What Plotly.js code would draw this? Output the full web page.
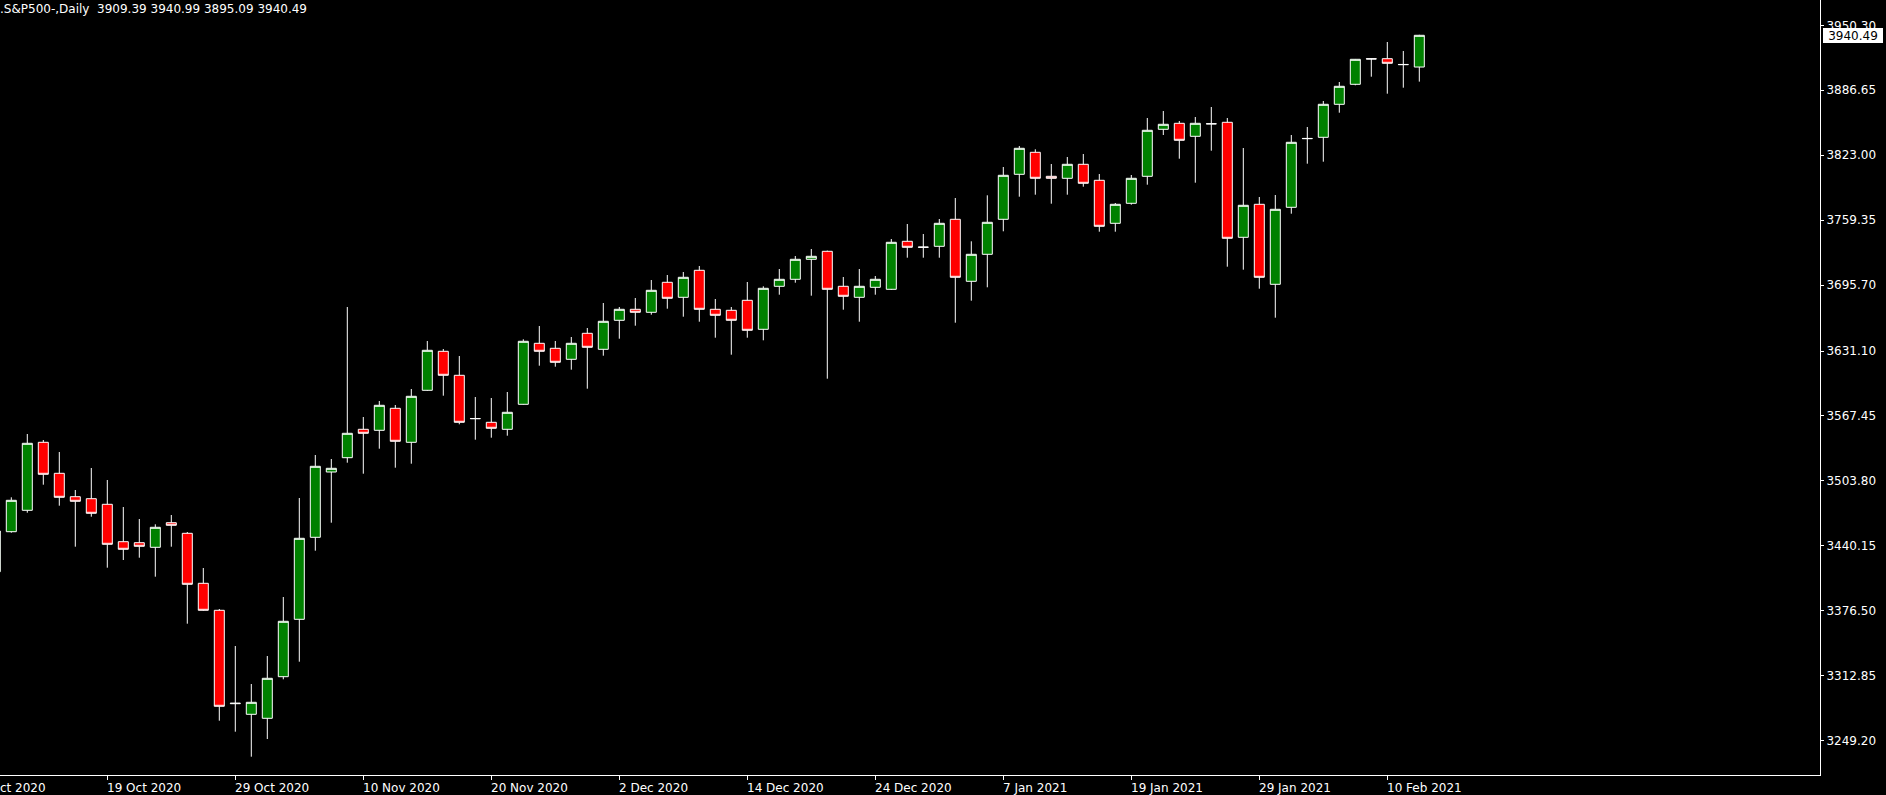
<!DOCTYPE html>
<html>
<head>
<meta charset="utf-8">
<script src="https://cdn.plot.ly/plotly-3.0.1.min.js"></script>
<style>
html,body{margin:0;padding:0;background:#000;overflow:hidden;}
#chart{width:1886px;height:795px;}
</style>
</head>
<body>
<div id="chart"></div>
<script>
// ---- data ----
const dates = [
 '2020-10-08','2020-10-09','2020-10-12','2020-10-13','2020-10-14','2020-10-15','2020-10-16',
 '2020-10-19','2020-10-20','2020-10-21','2020-10-22','2020-10-23','2020-10-26','2020-10-27',
 '2020-10-28','2020-10-29','2020-10-30','2020-11-02','2020-11-03','2020-11-04','2020-11-05',
 '2020-11-06','2020-11-09','2020-11-10','2020-11-11','2020-11-12','2020-11-13','2020-11-16',
 '2020-11-17','2020-11-18','2020-11-19','2020-11-20','2020-11-23','2020-11-24','2020-11-25',
 '2020-11-26','2020-11-27','2020-11-30','2020-12-01','2020-12-02','2020-12-03','2020-12-04',
 '2020-12-07','2020-12-08','2020-12-09','2020-12-10','2020-12-11','2020-12-14','2020-12-15',
 '2020-12-16','2020-12-17','2020-12-18','2020-12-21','2020-12-22','2020-12-23','2020-12-24',
 '2020-12-28','2020-12-29','2020-12-30','2020-12-31','2021-01-04','2021-01-05','2021-01-06',
 '2021-01-07','2021-01-08','2021-01-11','2021-01-12','2021-01-13','2021-01-14','2021-01-15',
 '2021-01-18','2021-01-19','2021-01-20','2021-01-21','2021-01-22','2021-01-25','2021-01-26',
 '2021-01-27','2021-01-28','2021-01-29','2021-02-01','2021-02-02','2021-02-03','2021-02-04',
 '2021-02-05','2021-02-08','2021-02-09','2021-02-10','2021-02-11','2021-02-12'
];
const openP = [
 3414.82,3454.02,3475.00,3541.64,3511.26,3488.32,3486.36,
 3480.88,3444.22,3443.24,3438.74,3462.84,3452.46,3403.46,
 3377.00,3285.46,3275.08,3271.16,3311.92,3368.18,3448.54,
 3512.53,3526.54,3554.38,3553.40,3574.96,3541.64,3592.60,
 3630.82,3607.30,3564.76,3561.24,3554.38,3578.88,3638.66,
 3633.76,3622.98,3648.46,3632.78,3661.20,3671.98,3669.04,
 3698.44,3683.74,3710.20,3671.98,3671.00,3680.80,3652.38,
 3694.52,3701.38,3720.98,3728.82,3694.52,3683.74,3693.54,
 3691.58,3738.62,3732.74,3733.72,3760.18,3699.42,3725.88,
 3760.18,3804.28,3825.84,3802.32,3800.36,3814.08,3798.40,
 3756.26,3775.86,3802.32,3848.38,3854.26,3841.52,3853.86,
 3855.24,3742.54,3774.88,3696.48,3771.94,3839.16,3840.54,
 3872.88,3892.48,3917.56,3917.56,3911.68,3909.39
];
const highP = [
 3458.60,3487.74,3549.77,3543.89,3532.13,3494.89,3516.45,
 3504.69,3478.23,3466.47,3461.28,3470.39,3453.73,3418.45,
 3378.27,3342.01,3304.77,3332.21,3390.03,3487.05,3529.19,
 3525.27,3674.23,3566.43,3582.11,3578.19,3593.87,3640.91,
 3633.07,3626.21,3586.03,3585.05,3590.93,3642.58,3655.61,
 3640.91,3644.83,3653.65,3678.15,3674.23,3683.05,3700.69,
 3705.59,3708.53,3714.41,3682.07,3674.23,3698.73,3694.52,
 3711.47,3724.21,3731.07,3729.50,3703.63,3711.47,3704.61,
 3740.87,3755.57,3745.77,3760.47,3781.05,3738.62,3783.70,
 3811.43,3832.01,3828.78,3814.37,3821.23,3824.17,3804.57,
 3776.15,3803.59,3859.45,3866.31,3856.51,3860.43,3870.23,
 3859.45,3830.05,3782.03,3783.99,3842.79,3850.63,3876.11,
 3894.73,3917.30,3918.00,3933.93,3925.11,3940.99
];
const lowP = [
 3410.60,3453.04,3472.64,3500.08,3479.50,3439.32,3468.72,
 3418.74,3426.29,3428.54,3409.92,3439.32,3363.86,3376.50,
 3268.80,3258.02,3233.52,3250.87,3309.38,3326.62,3435.40,
 3462.84,3521.64,3510.86,3535.36,3516.74,3520.66,3592.00,
 3587.30,3559.28,3544.18,3546.14,3548.10,3578.50,3616.70,
 3615.72,3612.78,3594.16,3626.50,3643.16,3655.90,3666.68,
 3672.56,3664.72,3659.82,3644.14,3627.48,3644.14,3641.60,
 3686.28,3698.04,3685.30,3603.96,3671.58,3659.82,3686.28,
 3691.00,3722.54,3722.54,3722.54,3658.84,3680.40,3693.54,
 3748.42,3782.32,3784.28,3775.46,3784.28,3792.12,3748.02,
 3748.02,3774.48,3794.08,3842.79,3819.56,3796.04,3827.40,
 3713.72,3710.78,3692.16,3663.74,3765.66,3814.66,3816.62,
 3864.64,3891.50,3899.92,3883.26,3889.14,3895.09
];
const closeP = [
 3454.71,3484.80,3540.66,3510.28,3487.74,3483.82,3472.06,
 3441.68,3436.78,3439.72,3458.34,3460.30,3402.48,3377.00,
 3282.92,3285.90,3286.84,3310.36,3366.22,3447.56,3518.12,
 3516.16,3550.46,3550.46,3577.90,3542.62,3586.72,3631.80,
 3607.30,3561.24,3564.90,3555.36,3571.04,3640.62,3630.82,
 3620.04,3638.66,3634.74,3660.22,3671.98,3669.04,3690.60,
 3682.76,3703.34,3671.98,3666.10,3661.20,3651.40,3692.56,
 3701.38,3720.98,3723.92,3691.58,3684.72,3694.52,3701.38,
 3737.64,3732.74,3732.90,3756.26,3703.34,3725.88,3757.24,
 3803.30,3829.76,3800.36,3800.36,3814.08,3795.46,3753.32,
 3774.88,3800.36,3847.40,3853.28,3837.60,3854.26,3853.70,
 3741.56,3773.90,3703.34,3769.98,3835.64,3839.40,3872.88,
 3890.52,3916.98,3917.30,3913.06,3911.90,3940.49
];
const xTickDates = ['2020-10-19','2020-10-29','2020-11-10','2020-11-20','2020-12-02','2020-12-14',
                    '2020-12-24','2021-01-07','2021-01-19','2021-01-29','2021-02-10'];
const xTickLabels = ['19 Oct 2020','29 Oct 2020','10 Nov 2020','20 Nov 2020','2 Dec 2020','14 Dec 2020',
                     '24 Dec 2020','7 Jan 2021','19 Jan 2021','29 Jan 2021','10 Feb 2021'];
const leftCutLabel = '7 Oct 2020';   // one tick step (8 sessions) before 19 Oct
const yTickVals = [3249.20,3312.85,3376.50,3440.15,3503.80,3567.45,3631.10,3695.70,3759.35,3823.00,3886.65,3950.30];
const yTickText = ['3249.20','3312.85','3376.50','3440.15','3503.80','3567.45','3631.10','3695.70','3759.35','3823.00','3886.65','3950.30'];
const symbolName = '.S&amp;P500-,Daily';

// ---- view settings ----
const xr0 = 0.294, xr1 = 114.044;
const yRange = [3215.59, 3975.09];
const FONT = 'DejaVu Sans, Verdana, sans-serif';

const trace = {
  type: 'candlestick',
  x: dates, open: openP, high: highP, low: lowP, close: closeP,
  increasing: {fillcolor: '#008000', line: {color: '#ffffff', width: 1}},
  decreasing: {fillcolor: '#ff0000', line: {color: '#ffffff', width: 1}},
  whiskerwidth: 0,
  hoverinfo: 'skip'
};

const n = dates.length;
const last = n - 1;
const annotations = [];
// title (symbol + last OHLC)
annotations.push({
  xref: 'paper', yref: 'paper', x: 0, y: 1, xanchor: 'left', yanchor: 'top',
  xshift: -2, yshift: 0, showarrow: false,
  text: symbolName + '\u00a0\u00a0' + openP[last].toFixed(2) + ' ' + highP[last].toFixed(2) + ' ' +
        lowP[last].toFixed(2) + ' ' + closeP[last].toFixed(2),
  font: {family: FONT, size: 12, color: '#ffffff'}
});
// x labels, left-aligned at their tick
xTickDates.forEach((d, i) => {
  annotations.push({
    xref: 'x', yref: 'paper', x: dates.indexOf(d), y: 0, xanchor: 'left', yanchor: 'top',
    xshift: -2, yshift: -4, showarrow: false, text: xTickLabels[i],
    font: {family: FONT, size: 12, color: '#ffffff'}
  });
});
// cut label left of the view
const cutIdx = dates.indexOf(xTickDates[0]) - 8;
annotations.push({
  xref: 'paper', yref: 'paper', x: (cutIdx - xr0) / (xr1 - xr0), y: 0, xanchor: 'left', yanchor: 'top',
  xshift: -2, yshift: -4, showarrow: false, text: leftCutLabel,
  font: {family: FONT, size: 12, color: '#ffffff'}
});
// last price box
annotations.push({
  xref: 'paper', yref: 'y', x: 1, y: closeP[last], xanchor: 'left', yanchor: 'middle',
  xshift: 3, showarrow: false, text: closeP[last].toFixed(2),
  bgcolor: '#ffffff', borderpad: 1, borderwidth: 0, width: 58, height: 13, align: 'center',
  font: {family: FONT, size: 12, color: '#000000'}
});

const layout = {
  width: 1886, height: 795,
  margin: {l: 0, r: 66, t: 0, b: 20, pad: 0},
  paper_bgcolor: '#000000', plot_bgcolor: '#000000',
  showlegend: false,
  boxgap: 0.375, boxgroupgap: 0,
  xaxis: {
    type: 'category', range: [xr0, xr1], autorange: false,
    showgrid: false, zeroline: false, showline: true, linecolor: '#ffffff', linewidth: 1,
    ticks: 'outside', ticklen: 4, tickwidth: 1, tickcolor: '#ffffff',
    tickmode: 'array', tickvals: xTickDates, showticklabels: false,
    rangeslider: {visible: false}, fixedrange: true
  },
  yaxis: {
    side: 'right', range: yRange, autorange: false,
    showgrid: false, zeroline: false, showline: true, linecolor: '#ffffff', linewidth: 1,
    ticks: 'outside', ticklen: 3, tickwidth: 1, tickcolor: '#ffffff',
    tickmode: 'array', tickvals: yTickVals, ticktext: yTickText,
    tickfont: {family: FONT, size: 12, color: '#ffffff'},
    fixedrange: true
  },
  annotations: annotations
};

Plotly.newPlot('chart', [trace], layout, {displayModeBar: false, staticPlot: true});
</script>
</body>
</html>
